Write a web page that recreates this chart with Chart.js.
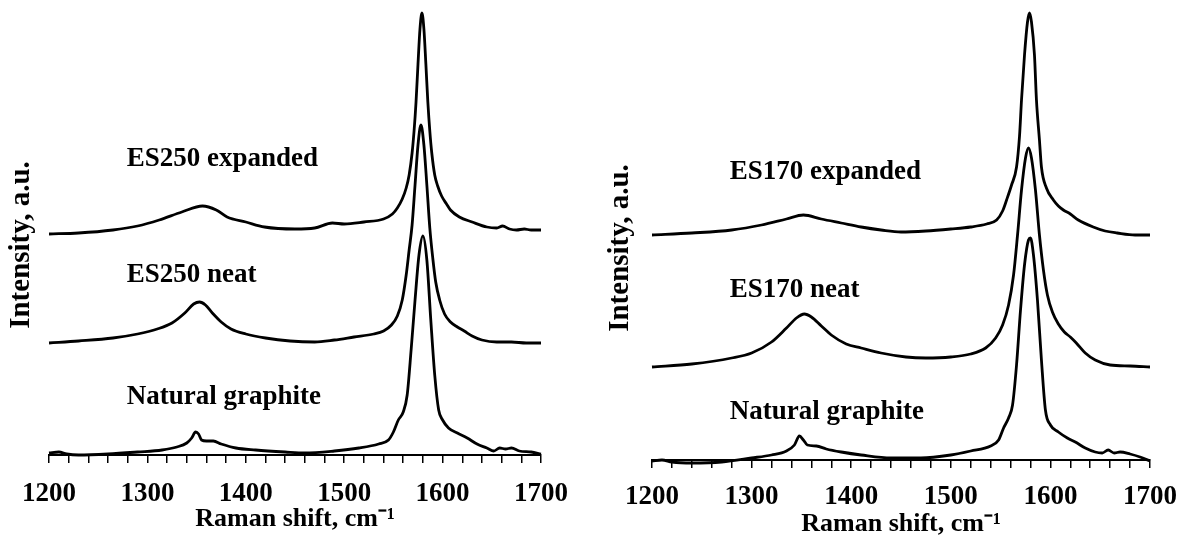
<!DOCTYPE html>
<html>
<head>
<meta charset="utf-8">
<script src="https://cdn.jsdelivr.net/npm/chart.js@4/dist/chart.umd.min.js"></script>
<style>
  html, body { margin: 0; padding: 0; background: #fff; }
  #wrap { position: relative; width: 1188px; height: 538px; overflow: hidden; }
  .panel { position: absolute; top: 0; width: 594px; height: 538px; }
</style>
</head>
<body>
<div id="wrap">
  <div class="panel" style="left:0"><canvas id="leftChart" width="594" height="538"></canvas></div>
  <div class="panel" style="left:599px"><canvas id="rightChart" width="594" height="538"></canvas></div>
</div>
<script>
// Raman spectra, offset vertically (a.u.)
const es250ExpX = [1200,1230,1265,1290,1312,1335,1356,1370,1381,1400,1419,1450,1470,1488,1500,1520,1540,1549,1554,1559,1563,1566,1569,1571,1573,1575,1577,1579,1581,1583,1585,1587,1589,1592,1595,1599,1604,1608,1617,1630,1645,1655,1661,1668,1675,1683,1690,1700];
const es250ExpY = [55.25,55.5,56.25,57.25,58.75,60.75,62.25,61.25,59.5,58.25,57,56.5,56.75,58,57.75,58.25,59,60.25,61.75,64,66.75,70,75.5,81,88.25,97.75,106.5,110.5,106.5,97.75,88.25,81,75.5,70,67.25,64.75,62.75,61.25,59.5,58.25,57,56.75,57.25,56.5,56.25,56.5,56.25,56.25];

const es250NeatX = [1200,1230,1265,1290,1310,1325,1338,1347,1353,1359,1366,1375,1385,1400,1420,1445,1470,1490,1510,1530,1540,1548,1554,1559,1563,1566,1569,1572,1575,1578,1581,1584,1587,1590,1593,1597,1602,1608,1615,1622,1630,1640,1655,1670,1685,1700];
const es250NeatY = [28,28.5,29.25,30.25,31.5,33,35.5,37.75,38.25,37.5,35.5,33.25,31.5,30.25,29.25,28.5,28.25,28.75,29.5,30.25,31,32.5,34.75,38.75,45,51.25,57.5,67.5,77.5,82.5,77.5,67.5,56.75,49.25,43.25,38.75,35.25,33.25,32,31,29.75,28.75,28.25,28.25,28,28];

const graphiteLX = [1200,1210,1218,1230,1260,1290,1315,1330,1340,1345,1349,1352,1355,1360,1367,1375,1390,1410,1440,1460,1490,1515,1535,1545,1550,1555,1560,1564,1568,1572,1576,1580,1584,1588,1592,1596,1600,1606,1615,1625,1635,1645,1652,1658,1664,1670,1678,1690,1700];
const graphiteLY = [0.5,0.75,0.25,0,0.25,0.75,1.25,2,3,4.25,5.75,5.25,3.75,3.5,3.5,2.75,1.75,1.25,0.75,0.5,1,1.75,2.75,3.75,5.75,8.75,10.75,15,26.25,38.75,50,54.75,48.75,33.75,20,11.25,8.75,6.75,5.5,4.25,2.75,1.75,1,1.75,1.5,1.75,1,0.75,0.25];

const es170ExpX = [1200,1240,1280,1310,1335,1352,1370,1390,1410,1430,1450,1475,1500,1520,1536,1546,1552,1556,1561,1566,1569,1571,1574,1577,1579,1581,1584,1586,1589,1591,1596,1603,1608,1613,1620,1628,1643,1655,1667,1685,1700];
const es170ExpY = [56.25,56.75,57.5,58.75,60.25,61.25,60.25,59.25,58.25,57.5,57,57.25,57.75,58.25,59,60,62.25,65,68.75,73.25,81,90,101.25,109.5,111.75,109.5,101.25,90,80,73.25,68,65,63.5,62.5,61.5,60,58.25,57.25,56.75,56.25,56.25];

const es170NeatX = [1200,1240,1280,1300,1320,1335,1345,1353,1360,1370,1380,1395,1410,1430,1455,1475,1500,1520,1535,1545,1552,1558,1563,1567,1571,1575,1578,1581,1585,1589,1593,1597,1602,1608,1614,1620,1626,1635,1645,1660,1680,1700];
const es170NeatY = [23.25,24,25.5,26.75,29.5,33,35.5,36.5,35.75,33.5,31.25,29,28,26.75,25.75,25.5,25.75,26.5,28,30.5,33.75,38.75,46.25,56.25,67.5,75.5,78,75.5,67.5,56.25,47.5,41.25,37,34,32,30.75,29.25,26.75,25,23.75,23.5,23.25];

const graphiteRX = [1200,1210,1220,1240,1270,1300,1320,1335,1343,1348,1352,1356,1365,1375,1390,1410,1440,1470,1500,1520,1540,1548,1553,1558,1562,1566,1570,1574,1578,1580,1583,1587,1591,1595,1600,1608,1617,1625,1635,1645,1652,1658,1664,1670,1680,1690,1700];
const graphiteRY = [-0.25,0,-0.5,-0.75,-0.5,0.5,1.25,2.25,3.75,6,5,3.75,3.5,2.75,2,1.25,0.5,0.5,1.25,2.25,3.5,5,8,10.5,13.75,23.75,37.5,48.75,55,55.5,51.25,40,25,12.5,8.75,7,5.5,4.5,3,2,1.75,2.5,1.75,2,1.5,0.75,-0.25];

const leftLabels = ['ES250 expanded', 'ES250 neat', 'Natural graphite'];
const rightLabels = ['ES170 expanded', 'ES170 neat', 'Natural graphite'];

const serif = '"Liberation Serif", "Times New Roman", serif';

function toPoints(xs, ys) {
    return xs.map((x, i) => ({ x: x, y: ys[i] }));
}

// draws the sample names at data coordinates
const textLabels = {
    id: 'textLabels',
    afterDatasetsDraw(chart, args, opts) {
        const { ctx } = chart;
        const xs = chart.scales.x, ys = chart.scales.y;
        ctx.save();
        ctx.font = 'bold 27px ' + serif;
        ctx.fillStyle = '#000';
        ctx.textAlign = 'left';
        ctx.textBaseline = 'middle';
        opts.items.forEach(it => {
            ctx.fillText(it.text, xs.getPixelForValue(it.x), ys.getPixelForValue(it.y));
        });
        ctx.restore();
    }
};

function makeChart(id, series, labelItems, lay) {
    const ctx = document.getElementById(id).getContext('2d');
    return new Chart(ctx, {
        type: 'line',
        data: {
            datasets: series.map(s => ({
                data: toPoints(s[0], s[1]),
                borderColor: '#000',
                borderWidth: 2.8,
                pointRadius: 0,
                fill: false,
                cubicInterpolationMode: 'monotone',
                clip: false
            }))
        },
        options: {
            responsive: false,
            animation: false,
            layout: { padding: { left: 0, top: lay.top, right: lay.right, bottom: 0 } },
            plugins: {
                legend: { display: false },
                tooltip: { enabled: false },
                textLabels: { items: labelItems }
            },
            scales: {
                x: {
                    type: 'linear',
                    min: 1200,
                    max: 1700,
                    afterFit: function (scale) {
                        scale.height = lay.xHeight;
                    },
                    border: { display: true, color: '#000', width: 2 },
                    grid: { drawOnChartArea: false, drawTicks: true, tickLength: 8, color: '#000', lineWidth: 1.5 },
                    ticks: {
                        stepSize: 20,
                        autoSkip: false,
                        maxRotation: 0,
                        padding: lay.tickPad,
                        color: '#000',
                        font: { family: serif, size: 27, weight: 'bold', lineHeight: 1 },
                        callback: function (value) {
                            return value % 100 === 0 ? value : '';
                        }
                    },
                    title: {
                        display: true,
                        text: 'Raman shift, cm⁻¹',
                        color: '#000',
                        font: { family: serif, size: 26, weight: 'bold', lineHeight: 1 },
                        padding: { top: 0, bottom: lay.titlePad }
                    }
                },
                y: {
                    min: 0,
                    max: lay.ymax,
                    border: { display: false },
                    grid: { display: false, drawTicks: false },
                    ticks: { display: false },
                    title: {
                        display: true,
                        text: 'Intensity, a.u.',
                        color: '#000',
                        font: { family: serif, size: 29, weight: 'bold', lineHeight: 1 },
                        padding: { top: lay.yTitleTop, bottom: lay.yTitleBottom }
                    }
                }
            }
        },
        plugins: [textLabels]
    });
}

window.onload = function () {
    makeChart('leftChart',
        [[es250ExpX, es250ExpY], [es250NeatX, es250NeatY], [graphiteLX, graphiteLY]],
        [
            { text: leftLabels[0], x: 1279, y: 74 },
            { text: leftLabels[1], x: 1279, y: 45 },
            { text: leftLabels[2], x: 1279, y: 14.5 }
        ],
        { top: 35, right: 53, ymax: 105, xHeight: 83, tickPad: 18, titlePad: 6, yTitleTop: 7, yTitleBottom: 13 });

    makeChart('rightChart',
        [[es170ExpX, es170ExpY], [es170NeatX, es170NeatY], [graphiteRX, graphiteRY]],
        [
            { text: rightLabels[0], x: 1278, y: 72 },
            { text: rightLabels[1], x: 1278, y: 42.5 },
            { text: rightLabels[2], x: 1278, y: 12 }
        ],
        { top: 36, right: 43, ymax: 106, xHeight: 78, tickPad: 16, titlePad: 1, yTitleTop: 7, yTitleBottom: 17 });
};
</script>
</body>
</html>
